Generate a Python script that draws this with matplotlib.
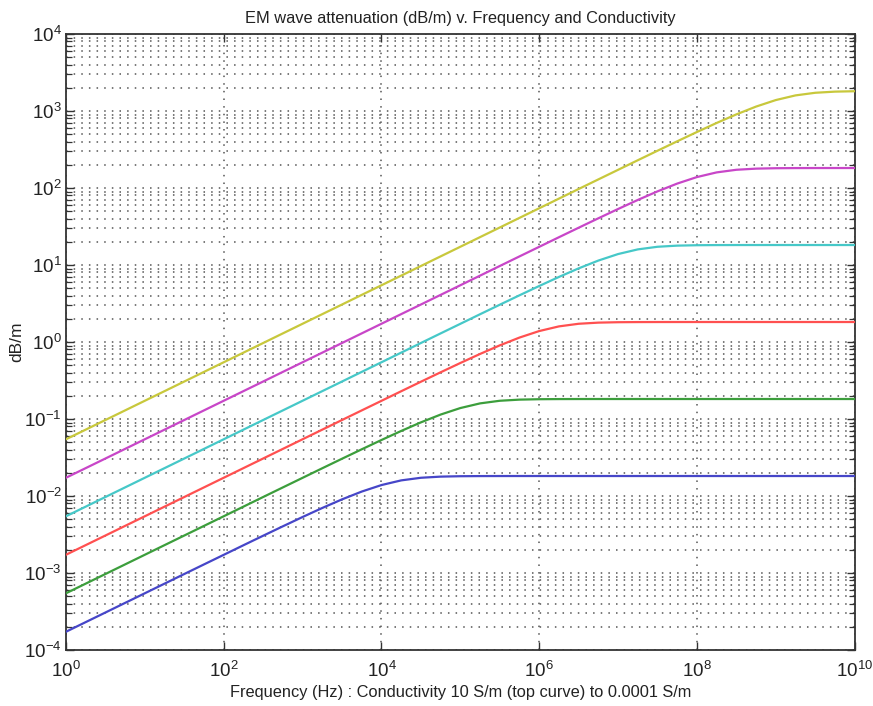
import matplotlib
matplotlib.use("Agg")
import matplotlib.pyplot as plt
from matplotlib.ticker import LogLocator, FixedLocator, NullLocator, NullFormatter

plt.rcParams['font.family'] = ['Liberation Sans', 'DejaVu Sans']
plt.rcParams['mathtext.fontset'] = 'custom'
plt.rcParams['mathtext.rm'] = 'Liberation Sans'
plt.rcParams['mathtext.it'] = 'Liberation Sans'

# frequency grid (Hz), quarter-decade steps from 1 to 1e10
freq = [1e0, 1.778e0, 3.162e0, 5.623e0, 1e1, 1.778e1, 3.162e1, 5.623e1,
        1e2, 1.778e2, 3.162e2, 5.623e2, 1e3, 1.778e3, 3.162e3, 5.623e3,
        1e4, 1.778e4, 3.162e4, 5.623e4, 1e5, 1.778e5, 3.162e5, 5.623e5,
        1e6, 1.778e6, 3.162e6, 5.623e6, 1e7, 1.778e7, 3.162e7, 5.623e7,
        1e8, 1.778e8, 3.162e8, 5.623e8, 1e9, 1.778e9, 3.162e9, 5.623e9, 1e10]

# attenuation (dB/m) for each conductivity, top curve (10 S/m) to bottom (0.0001 S/m)
att_10 = [0.0546, 0.0728, 0.0971, 0.1295, 0.1727, 0.2303, 0.307, 0.4095,
          0.546, 0.728, 0.971, 1.295, 1.727, 2.303, 3.07, 4.095,
          5.46, 7.28, 9.71, 12.95, 17.27, 23.03, 30.7, 40.95,
          54.6, 72.8, 97.1, 129.4, 172.3, 229.5, 305.0, 404.4,
          534.0, 699.8, 904.7, 1142.5, 1388, 1595.8, 1726, 1785.8, 1808]
att_1 = [0.01727, 0.02303, 0.0307, 0.04095, 0.0546, 0.0728, 0.0971, 0.1295,
         0.1727, 0.2303, 0.307, 0.4095, 0.546, 0.728, 0.971, 1.295,
         1.727, 2.303, 3.07, 4.095, 5.46, 7.28, 9.71, 12.94,
         17.23, 22.95, 30.50, 40.44, 53.40, 69.98, 90.47, 114.25,
         138.8, 159.58, 172.6, 178.58, 180.8, 181.55, 181.8, 181.86, 181.9]
att_01 = [0.00546, 0.00728, 0.00971, 0.01295, 0.01727, 0.02303, 0.0307, 0.04095,
          0.0546, 0.0728, 0.0971, 0.1295, 0.1727, 0.2303, 0.307, 0.4095,
          0.546, 0.728, 0.971, 1.294, 1.723, 2.295, 3.050, 4.044,
          5.340, 6.998, 9.047, 11.425, 13.88, 15.958, 17.26, 17.858,
          18.08, 18.155, 18.18, 18.186, 18.19, 18.19, 18.19, 18.19, 18.19]
att_001 = [0.001727, 0.002303, 0.00307, 0.004095, 0.00546, 0.00728, 0.00971, 0.01295,
           0.01727, 0.02303, 0.0307, 0.04095, 0.0546, 0.0728, 0.0971, 0.1294,
           0.1723, 0.2295, 0.3050, 0.4044, 0.5340, 0.6998, 0.9047, 1.1425,
           1.388, 1.5958, 1.726, 1.7858, 1.808, 1.8155, 1.818, 1.8186,
           1.819, 1.819, 1.819, 1.819, 1.819, 1.819, 1.819, 1.819, 1.819]
att_0001 = [0.000546, 0.000728, 0.000971, 0.001295, 0.001727, 0.002303, 0.00307, 0.004095,
            0.00546, 0.00728, 0.00971, 0.01294, 0.01723, 0.02295, 0.03050, 0.04044,
            0.05340, 0.06998, 0.09047, 0.11425, 0.1388, 0.15958, 0.1726, 0.17858,
            0.1808, 0.18155, 0.1818, 0.18186, 0.1819, 0.1819, 0.1819, 0.1819,
            0.1819, 0.1819, 0.1819, 0.1819, 0.1819, 0.1819, 0.1819, 0.1819, 0.1819]
att_00001 = [0.0001727, 0.0002303, 0.000307, 0.0004095, 0.000546, 0.000728, 0.000971, 0.001294,
             0.001723, 0.002295, 0.003050, 0.004044, 0.005340, 0.006998, 0.009047, 0.011425,
             0.01388, 0.015958, 0.01726, 0.017858, 0.01808, 0.018155, 0.01818, 0.018186,
             0.01819, 0.01819, 0.01819, 0.01819, 0.01819, 0.01819, 0.01819, 0.01819,
             0.01819, 0.01819, 0.01819, 0.01819, 0.01819, 0.01819, 0.01819, 0.01819, 0.01819]

series = [att_10, att_1, att_01, att_001, att_0001, att_00001]
colors = ['#c8c83c', '#c846c8', '#46c8c8', '#ff5050', '#3c9e3c', '#4646c8']

xtick_exp = [0, 2, 4, 6, 8, 10]
ytick_exp = [-4, -3, -2, -1, 0, 1, 2, 3, 4]

title = 'EM wave attenuation (dB/m) v. Frequency and Conductivity'
xlabel = 'Frequency (Hz) : Conductivity 10 S/m (top curve) to 0.0001 S/m'
ylabel = 'dB/m'

fig = plt.figure(figsize=(8.73, 7.06), dpi=100)
ax = fig.add_axes([0.0756, 0.0793, 0.9034, 0.8725])

for ys, c in zip(series, colors):
    ax.plot(freq, ys, color=c, lw=1.6, solid_joinstyle='round', zorder=3)

ax.set_xscale('log')
ax.set_yscale('log')
ax.set_xlim(1, 1e10)
ax.set_ylim(1e-4, 1e4)

ax.xaxis.set_major_locator(FixedLocator([10.0 ** e for e in xtick_exp]))
ax.xaxis.set_minor_locator(NullLocator())
ax.set_xticklabels([r'$\mathregular{10^{%d}}$' % e for e in xtick_exp])
ax.yaxis.set_major_locator(FixedLocator([10.0 ** e for e in ytick_exp]))
ax.yaxis.set_minor_locator(LogLocator(base=10, subs=range(2, 10), numticks=30))
ax.yaxis.set_minor_formatter(NullFormatter())
ax.set_yticklabels([r'$\mathregular{10^{%d}}$' % e for e in ytick_exp])

ax.tick_params(which='both', direction='in', top=True, right=True, colors='#333333',
               labelcolor='#222222', labelsize=13.5)
ax.tick_params(which='major', length=6, width=1.0)
ax.tick_params(axis='x', which='major', pad=8)
ax.tick_params(axis='y', which='major', pad=3)
ax.tick_params(which='minor', length=4, width=0.9)

grid_ls = (0, (1, 4))
ax.grid(True, which='major', axis='both', linestyle=grid_ls, color='#555555', lw=1.1)
ax.grid(True, which='minor', axis='y', linestyle=grid_ls, color='#555555', lw=1.1)

for s in ax.spines.values():
    s.set_linewidth(1.3)
    s.set_color('#333333')

ax.set_title(title, fontsize=11.8, color='#222222', pad=8)
ax.set_xlabel(xlabel, fontsize=11.8, color='#222222', labelpad=3)
ax.set_ylabel(ylabel, fontsize=12.5, color='#222222')
ax.yaxis.set_label_coords(-0.053, 0.5)

fig.savefig('out.png', dpi=100, facecolor='white')
